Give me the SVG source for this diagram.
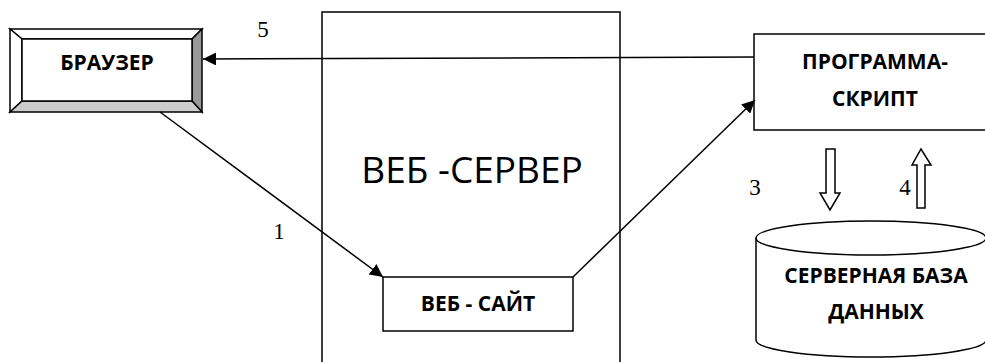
<svg xmlns="http://www.w3.org/2000/svg" width="985" height="362" viewBox="0 0 985 362">
<style>
.ln{fill:none;stroke:#000;stroke-width:1.5}
.bx{fill:#fff;stroke:#000;stroke-width:1.5}
.b{font-family:"Open Sans","DejaVu Sans",sans-serif;font-weight:bold;font-size:21px;fill:#000;text-anchor:middle}
.n{font-family:"Liberation Serif","Times New Roman",serif;font-size:23px;fill:#000;text-anchor:middle}
</style>
<defs>
<marker id="ah" markerWidth="13" markerHeight="13" refX="13" refY="6.5" orient="auto" markerUnits="userSpaceOnUse">
<path d="M0,0 L13,6.5 L0,13 Z" fill="#000"/>
</marker>
</defs>
<rect width="985" height="362" fill="#fff"/>
<g id="webserver">
<rect class="bx" x="322" y="12" width="298" height="360"/>
<text x="472" y="183" font-family="'Open Sans','DejaVu Sans',sans-serif" font-size="37" text-anchor="middle" fill="#000">ВЕБ -СЕРВЕР</text>
</g>
<g id="browser">
<polygon points="10,29 202,29 192,39 22,39" fill="#fff" stroke="#000" stroke-width="1.5"/>
<polygon points="10,29 22,39 22,101 10,112" fill="#fff" stroke="#000" stroke-width="1.5"/>
<polygon points="202,29 202,112 192,101 192,39" fill="#999" stroke="#000" stroke-width="1.5"/>
<polygon points="10,112 202,112 192,101 22,101" fill="#ccc" stroke="#000" stroke-width="1.5"/>
<rect x="22" y="39" width="170" height="62" fill="#fff" stroke="#000" stroke-width="1.5"/>
<text class="b" x="107" y="70">БРАУЗЕР</text>
</g>
<g id="website">
<rect class="bx" x="383" y="277" width="190" height="54"/>
<text class="b" x="478" y="311">ВЕБ - САЙТ</text>
</g>
<g id="script">
<rect class="bx" x="754" y="34" width="240" height="96"/>
<text class="b" x="875" y="69">ПРОГРАММА-</text>
<text class="b" x="875" y="106">СКРИПТ</text>
</g>
<g id="database">
<path class="bx" d="M756,238 L756,340 A115,17 0 0 0 986,340 L986,238"/>
<ellipse class="bx" cx="871" cy="238" rx="115" ry="17"/>
<text class="b" x="876" y="283">СЕРВЕРНАЯ БАЗА</text>
<text class="b" x="876" y="319">ДАННЫХ</text>
</g>
<g id="connectors">
<line class="ln" x1="754" y1="57" x2="203" y2="59" marker-end="url(#ah)"/>
<line class="ln" x1="160" y1="112" x2="383" y2="277" marker-end="url(#ah)"/>
<line class="ln" x1="573" y1="277" x2="755" y2="100" marker-end="url(#ah)"/>
<polygon class="bx" points="826,149 835,149 835,193 840,193 830,210 820,193 826,193"/>
<polygon class="bx" points="917,208 925,208 925,165 931,165 921,149 912,165 917,165"/>
<text class="n" x="263" y="37">5</text>
<text class="n" x="279" y="239">1</text>
<text class="n" x="755" y="195">3</text>
<text class="n" x="905" y="195">4</text>
</g>
</svg>
